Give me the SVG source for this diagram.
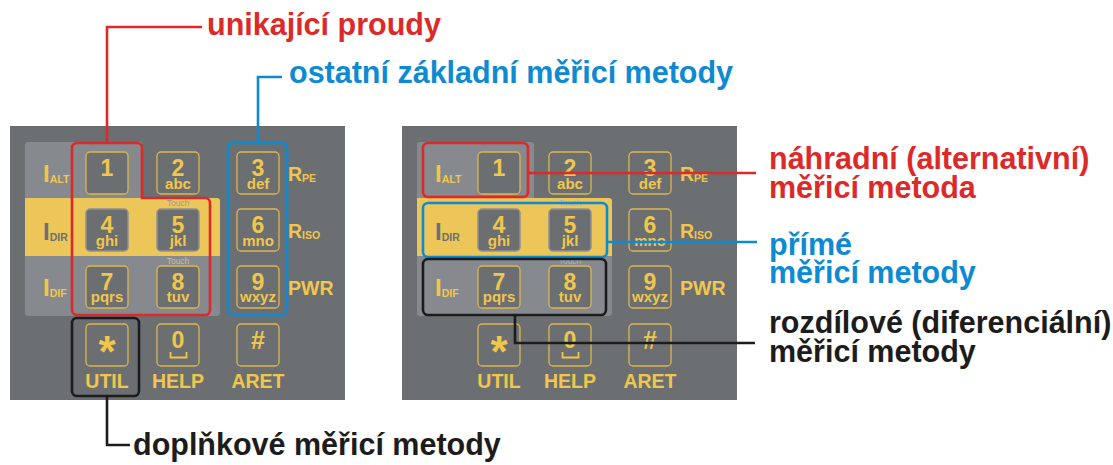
<svg xmlns="http://www.w3.org/2000/svg" width="1113" height="465" viewBox="0 0 1113 465">
<style>
.panel{fill:#6c6f72}
.lg{fill:#86898e}
.yb{fill:#edc659}
.key{fill:#6c6f72;stroke:#dcb64f;stroke-width:1.3}
.keyy{fill:#6c6f72;stroke:#8e9194;stroke-width:1.5}
.dg{font-family:"Liberation Sans",Arial,sans-serif;font-weight:bold;font-size:23px;fill:#f0c64c;text-anchor:middle}
.lt{font-family:"Liberation Sans",Arial,sans-serif;font-weight:bold;font-size:15px;fill:#f0c64c;text-anchor:middle}
.kl{font-family:"Liberation Sans",Arial,sans-serif;font-weight:bold;font-size:19.5px;fill:#f0c64c}
.big{font-family:"Liberation Sans",Arial,sans-serif;font-weight:bold;font-size:24px;fill:#f0c64c}
.dark{fill:#6c6f72}
.sub{font-size:10.5px}
.touch{font-family:"Liberation Sans",Arial,sans-serif;font-size:8.5px;text-anchor:middle}
.lbl{font-family:"Liberation Sans",Arial,sans-serif;font-weight:bold;font-size:30.5px}
.red{fill:#dc2a2a}.blue{fill:#0e8ad2}.blk{fill:#1c1c1c}
.sr{fill:none;stroke:#dc2a2a;stroke-width:2.6}
.sb{fill:none;stroke:#0e8ad2;stroke-width:2.6}
.sk{fill:none;stroke:#1c1c1c;stroke-width:2.6}
</style>

<g id="panel-left">
<rect class="panel" x="10" y="126" width="335" height="274"/>
<path class="lg" d="M25,145 a3,3 0 0 1 3,-3 H139 a3,3 0 0 1 3,3 V198 H25 Z"/>
<path class="yb" d="M25,198 H217 a3,3 0 0 1 3,3 V256 H25 Z"/>
<path class="lg" d="M25,256 H220 V313 a3,3 0 0 1 -3,3 H28 a3,3 0 0 1 -3,-3 Z"/>
<rect class="key" x="86" y="152" width="42" height="42" rx="4"/>
<rect class="key" x="157" y="152" width="42" height="42" rx="4"/>
<rect class="key" x="237" y="152" width="42" height="42" rx="4"/>
<rect class="keyy" x="86" y="209" width="42" height="42" rx="4"/>
<rect class="keyy" x="157" y="209" width="42" height="42" rx="4"/>
<rect class="key" x="237" y="209" width="42" height="42" rx="4"/>
<rect class="key" x="86" y="266" width="42" height="42" rx="4"/>
<rect class="key" x="157" y="266" width="42" height="42" rx="4"/>
<rect class="key" x="237" y="266" width="42" height="42" rx="4"/>
<rect class="key" x="86" y="324" width="42" height="42" rx="4"/>
<rect class="key" x="157" y="324" width="42" height="42" rx="4"/>
<rect class="key" x="237" y="324" width="42" height="42" rx="4"/>
<text class="dg" x="107" y="176">1</text>
<text class="dg" x="178" y="176">2</text><text class="lt" x="178" y="189">abc</text>
<text class="dg" x="258" y="176">3</text><text class="lt" x="258" y="189">def</text>
<text class="dg" x="107" y="233">4</text><text class="lt" x="107" y="246">ghi</text>
<text class="dg" x="178" y="233">5</text><text class="lt" x="178" y="246">jkl</text>
<text class="dg" x="258" y="233">6</text><text class="lt" x="258" y="246">mno</text>
<text class="dg" x="107" y="290">7</text><text class="lt" x="107" y="302">pqrs</text>
<text class="dg" x="178" y="290">8</text><text class="lt" x="178" y="302">tuv</text>
<text class="dg" x="258" y="290">9</text><text class="lt" x="258" y="302">wxyz</text>
<text class="dg" x="107" y="367" style="font-size:44px">*</text>
<text class="dg" x="178" y="348">0</text>
<path d="M170.5,352 V357.5 H186.5 V352" fill="none" stroke="#f0c64c" stroke-width="1.8"/>
<text class="dg" x="258" y="349" style="font-size:25px">#</text>
<text class="touch" x="178" y="206" fill="#9a9c9e">Touch</text>
<text class="touch" x="178" y="264" fill="#cfc193">Touch</text>
<text class="big" x="43" y="182">I<tspan class="sub" dy="1">ALT</tspan></text>
<text class="big dark" x="43" y="240">I<tspan class="sub" dy="1">DIR</tspan></text>
<text class="big" x="43" y="296">I<tspan class="sub" dy="1">DIF</tspan></text>
<text class="kl" x="288" y="181">R<tspan class="sub" dy="1">PE</tspan></text>
<text class="kl" x="288" y="238">R<tspan class="sub" dy="1">ISO</tspan></text>
<text class="kl" x="288" y="295">PWR</text>
<text class="kl" x="107" y="388" text-anchor="middle">UTIL</text>
<text class="kl" x="178" y="388" text-anchor="middle">HELP</text>
<text class="kl" x="258" y="388" text-anchor="middle">ARET</text>
</g>

<g id="panel-right" transform="translate(392,0)">
<rect class="panel" x="10" y="126" width="335" height="274"/>
<path class="lg" d="M25,145 a3,3 0 0 1 3,-3 H139 a3,3 0 0 1 3,3 V198 H25 Z"/>
<path class="yb" d="M25,198 H217 a3,3 0 0 1 3,3 V256 H25 Z"/>
<path class="lg" d="M25,256 H220 V313 a3,3 0 0 1 -3,3 H28 a3,3 0 0 1 -3,-3 Z"/>
<rect class="key" x="86" y="152" width="42" height="42" rx="4"/>
<rect class="key" x="157" y="152" width="42" height="42" rx="4"/>
<rect class="key" x="237" y="152" width="42" height="42" rx="4"/>
<rect class="keyy" x="86" y="209" width="42" height="42" rx="4"/>
<rect class="keyy" x="157" y="209" width="42" height="42" rx="4"/>
<rect class="key" x="237" y="209" width="42" height="42" rx="4"/>
<rect class="key" x="86" y="266" width="42" height="42" rx="4"/>
<rect class="key" x="157" y="266" width="42" height="42" rx="4"/>
<rect class="key" x="237" y="266" width="42" height="42" rx="4"/>
<rect class="key" x="86" y="324" width="42" height="42" rx="4"/>
<rect class="key" x="157" y="324" width="42" height="42" rx="4"/>
<rect class="key" x="237" y="324" width="42" height="42" rx="4"/>
<text class="dg" x="107" y="176">1</text>
<text class="dg" x="178" y="176">2</text><text class="lt" x="178" y="189">abc</text>
<text class="dg" x="258" y="176">3</text><text class="lt" x="258" y="189">def</text>
<text class="dg" x="107" y="233">4</text><text class="lt" x="107" y="246">ghi</text>
<text class="dg" x="178" y="233">5</text><text class="lt" x="178" y="246">jkl</text>
<text class="dg" x="258" y="233">6</text><text class="lt" x="258" y="246">mno</text>
<text class="dg" x="107" y="290">7</text><text class="lt" x="107" y="302">pqrs</text>
<text class="dg" x="178" y="290">8</text><text class="lt" x="178" y="302">tuv</text>
<text class="dg" x="258" y="290">9</text><text class="lt" x="258" y="302">wxyz</text>
<text class="dg" x="107" y="367" style="font-size:44px">*</text>
<text class="dg" x="178" y="348">0</text>
<path d="M170.5,352 V357.5 H186.5 V352" fill="none" stroke="#f0c64c" stroke-width="1.8"/>
<text class="dg" x="258" y="349" style="font-size:25px">#</text>
<text class="touch" x="178" y="206" fill="#a9b4bd">Touch</text>
<text class="touch" x="178" y="264" fill="#a9b4bd">Touch</text>
<text class="big" x="43" y="182">I<tspan class="sub" dy="1">ALT</tspan></text>
<text class="big dark" x="43" y="240">I<tspan class="sub" dy="1">DIR</tspan></text>
<text class="big" x="43" y="296">I<tspan class="sub" dy="1">DIF</tspan></text>
<text class="kl" x="288" y="181">R<tspan class="sub" dy="1">PE</tspan></text>
<text class="kl" x="288" y="238">R<tspan class="sub" dy="1">ISO</tspan></text>
<text class="kl" x="288" y="295">PWR</text>
<text class="kl" x="107" y="388" text-anchor="middle">UTIL</text>
<text class="kl" x="178" y="388" text-anchor="middle">HELP</text>
<text class="kl" x="258" y="388" text-anchor="middle">ARET</text>
</g>

<g id="highlights">
<path class="sr" d="M77,143 H137 a5,5 0 0 1 5,5 V198 H205 a5,5 0 0 1 5,5 V310 a5,5 0 0 1 -5,5 H77 a5,5 0 0 1 -5,-5 V148 a5,5 0 0 1 5,-5 Z"/>
<rect class="sb" x="228" y="143" width="59" height="172" rx="5"/>
<rect class="sk" x="72" y="318" width="67" height="78" rx="5"/>
<rect class="sr" x="423" y="143" width="105" height="54" rx="5"/>
<rect class="sb" x="423" y="203" width="184" height="54" rx="5"/>
<rect class="sk" x="423" y="259" width="183" height="56" rx="5"/>
</g>

<g id="connectors">
<path class="sr" d="M107,143 V27 H202"/>
<path class="sb" d="M258,143 V77 H282"/>
<path class="sk" d="M107,396 V445 H130"/>
<path class="sr" d="M528,173 H756"/>
<path class="sb" d="M607,242 H757"/>
<path class="sk" d="M515,315 V343 H755"/>
</g>

<g id="labels">
<text class="lbl red" x="207" y="35">unikající proudy</text>
<text class="lbl blue" x="289" y="83">ostatní základní měřicí metody</text>
<text class="lbl blk" x="133" y="455">doplňkové měřicí metody</text>
<text class="lbl red" x="769" y="169">náhradní (alternativní)</text>
<text class="lbl red" x="769" y="198">měřicí metoda</text>
<text class="lbl blue" x="769" y="255">přímé</text>
<text class="lbl blue" x="769" y="283">měřicí metody</text>
<text class="lbl blk" x="769" y="333">rozdílové (diferenciální)</text>
<text class="lbl blk" x="769" y="362">měřicí metody</text>
</g>
</svg>
